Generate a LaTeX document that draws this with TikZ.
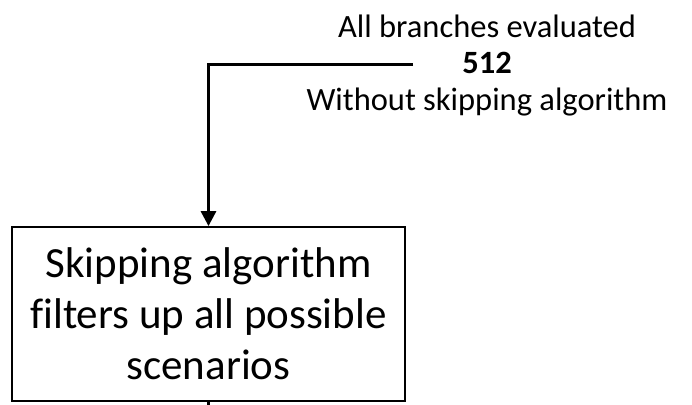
\documentclass[tikz,border=0pt]{standalone}
\usepackage{fontspec}
\setmainfont{Carlito}[Ligatures=CommonOff]
\usetikzlibrary{arrows.meta}
\begin{document}
\begin{tikzpicture}[x=1pt,y=-1pt,
  flowline/.style={line width=3pt},
  stepbox/.style={draw,line width=1.8pt,minimum width=393pt,minimum height=174pt,
    align=center,inner sep=0pt,font=\fontsize{43}{51}\selectfont},
  caption/.style={align=center,inner sep=0pt,font=\fontsize{32.5}{36.5}\selectfont}]
  \useasboundingbox (0,0) rectangle (692,404);
  % filtering step
  \node[stepbox] (box) at (208.5,314) {Skipping algorithm\\filters up all possible\\scenarios};
  % count of evaluated branches
  \node[caption,anchor=base] (info) at (487,110) {All branches evaluated\\\textbf{512}\\Without skipping algorithm};
  \coordinate (src) at (413,64);
  \coordinate (out) at (208.5,406);
  \draw[flowline,-{Triangle[width=15pt,length=15pt]}] (src) -| (box.north);
  \draw[flowline] (box.south) -- (out);
\end{tikzpicture}
\end{document}
